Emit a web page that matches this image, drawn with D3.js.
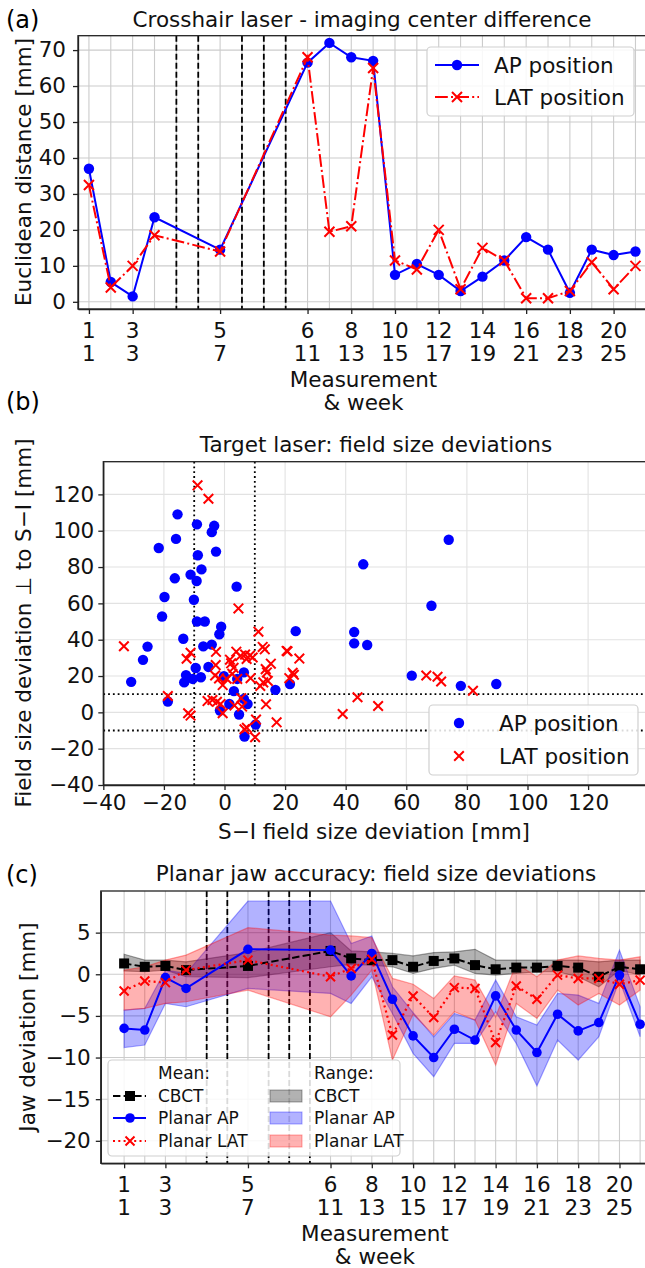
<!DOCTYPE html>
<html>
<meta charset="utf-8">
<style>
    body { margin: 0; background: #fff; }
    svg { display: block; font-family: "DejaVu Sans", sans-serif; }
    .grid line { stroke: #cccccc; stroke-width: 1.1; }
    .gridb line { stroke: #e2e2e2; stroke-width: 1.1; }
    .axis path, .axis line { stroke: #222; stroke-width: 1.3; }
    .axis text { font-size: 21.5px; fill: #111; font-family: "DejaVu Sans", sans-serif; }
    .lbl { font-size: 21.5px; fill: #111; }
</style>

<body>
<script src="https://d3js.org/d3.v7.min.js"></script>
<script>

    // ---- shared x axis: measurement number & week ----
    var measWeek = [1, 2, 3, 4, 7, 11, 12, 13, 14, 15, 16, 17, 18, 19, 20, 21, 22, 23, 24, 25, 26];
    var tickWeek = [1, 3, 7, 11, 13, 15, 17, 19, 21, 23, 25];
    var tickMeas = ["1", "3", "5", "6", "8", "10", "12", "14", "16", "18", "20"];
    var gapWeek = [5, 6, 8, 9, 10];

    // ---- (a) crosshair laser, euclidean distance [mm] ----
    var apDist = [37, 5.5, 1.5, 23.5, 14.5, 66.5, 72, 68, 67, 7.5, 10.5, 7.5, 3, 7, 11.5, 18, 14.5, 2.5, 14.5, 13, 14];
    var latDist = [32.5, 4, 10, 18.5, 14, 68, 19.5, 21, 65, 11.5, 9, 20, 3.5, 15, 11.5, 1, 1, 3, 11, 3.5, 10];
    var yTicksA = [0, 10, 20, 30, 40, 50, 60, 70];

    // ---- (b) target laser field size deviations [mm] ----
    var apSI = [-15.5, -9.1, -3.4, -4.2, -16, -21.7, -8.8, -2.8, -7.6, -16.4, -11.2, -9.2, -19.8, 4, -10.1, -20.6,
        -9.1, -6.5, -1.1, -1.7, -13.6, -25.4, -26.9, -7, -4.2, 23.5, 42.8, 42.8, 47.1, 45.8, 74, 68.3, 61.8, 78, 89.7,
        -30.8, -18.7, -9.5, -5.3, -12.7, -13.3, -10.5, -7.8, -0.2, 6.4, 4.2, 3.1, 16.8, 21.6, 1.6, 6.4, 7.6, -1.5,
        4.8, 10.3, 6.6];
    var apPerp = [109, 103.5, 102.7, 99.2, 95.5, 90.5, 86.5, 88.5, 78.7, 73.8, 75.8, 72.3, 63.5, 69.2, 62, 52.8,
        50, 50, 47.1, 43, 40.5, 36.2, 28.9, 36.3, 37.3, 44.7, 44.2, 38, 37.1, 81.5, 95, 58.7, 20.2, 14.6, 15.6,
        16.8, 6, 24.4, 25, 20.5, 16.5, 18.4, 19.3, 19.9, 22, 18.4, 11.7, 12.4, 15.6, 4.6, 7.4, 4.6, 1,
        -1.2, -6.7, -13.3];
    var latSI = [-8.9, -5.3, 4.6, -33.2, 11.2, 20.5, 24.7, 22.5, 66.6, 70.3, 71.5, 82, 43.9, 50.7, 39,
        -18.7, -12, -11.2, -12.5, -11.2, -2.8, -2.9, -1.8, -0.6, 0.7, -0.6, -5.6, -4, -2.5, -1.3,
        1.8, 2.2, 3, 3.9, 5.2, 6.8, 7.3, 8.4, 9.3, 5.5, 5.8, 3.3, 6.6, 7.4, 10.4, 10.1,
        12.6, 13.3, 11.8, 12.8, 14, 14.3, 13.6, 15.3, 13.7, 17.2, 20.8, 22.9, 21.4, 4.2, 2.6, -3.1, 8.6];
    var latPerp = [125, 117.6, 57.2, 36.4, 44.4, 33.8, 29.6, 21.8, 20.3, 19.6, 17, 11.9, 8.3, 3.5, -0.9,
        9, -0.5, -1.8, 29.5, 32.8, 33.3, 26, 18.7, 15, 18.5, -0.5, 6.2, 6.8, 5.8, 4.6,
        29, 27, 24.5, 33.4, 31, 31.8, 29.4, 31.3, 30.2, 7.8, 3.2, 3.8, -9.3, -8.5, -4, -13.7,
        36, 34.7, 14.5, 16.5, 22, 17.3, 23.8, 26.8, 4.4, -5.5, 33.6, 20.7, 18.8, 18.4, 21.2, 20.3, 18.8];
    var ticksB = [-40, -20, 0, 20, 40, 60, 80, 100, 120];
    var toleranceB = [-10, 10];

    // ---- (c) planar jaw accuracy: mean and range [mm] ----
    var cbctMean = [1.3, 0.9, 1.0, 0.5, 1.0, 2.8, 1.9, 1.7, 1.7, 0.9, 1.6, 1.9, 1.1, 0.6, 0.8, 0.8, 1.0, 0.8, -0.3, 0.9, 0.6];
    var cbctLo = [0.4, 0.3, 0.5, -0.3, -0.4, 0.9, 1.2, 1.1, 0.9, 0.1, 0.7, 1.1, 0.1, -0.1, 0.1, 0.3, 0.3, -0.3, -1.5, 0.5, -0.1];
    var cbctHi = [2.4, 1.7, 1.7, 1.5, 2.6, 5.0, 2.8, 2.7, 2.5, 2.2, 2.6, 2.7, 3.0, 1.7, 1.7, 1.7, 1.7, 1.7, 1.5, 1.7, 1.7];
    var apMean = [-6.5, -6.7, -0.4, -1.7, 3.0, 2.9, -0.2, 2.5, -3.0, -7.4, -10.0, -6.6, -7.9, -2.6, -6.7, -9.4, -4.8, -6.8, -5.8, -0.1, -6.0];
    var apLo = [-8.8, -8.5, -3.5, -3.9, -1.7, -2.3, -3.5, -0.3, -4.7, -9.5, -12.3, -8.3, -8.3, -4.5, -8.3, -13.4, -7.9, -10.3, -7.5, -0.7, -7.5];
    var apHi = [-4.3, -4.1, 0.5, 0.1, 8.8, 8.8, 3.7, 4.6, -1.5, -4.6, -7.5, -4.7, -5.5, -0.7, -5.1, -6.1, -2.3, -2.5, -3.5, 2.9, -3.9];
    var latMean = [-2.0, -0.8, -1.0, 0.5, 1.7, -0.3, 0.7, 1.8, -7.3, -2.6, -5.2, -1.6, -1.7, -8.2, -1.4, -3.0, -0.1, -0.5, -0.5, -1.2, -0.7];
    var latLo = [-4.3, -4.1, -3.5, -3.3, -1.9, -5.1, -2.5, 0.5, -10.3, -4.8, -7.3, -4.5, -5.5, -10.9, -3.5, -5.3, -1.9, -3.7, -2.3, -3.7, -1.9];
    var latHi = [0.5, 0.9, 1.7, 2.3, 5.6, 4.7, 4.6, 4.4, -0.5, -1.2, -2.9, -0.2, -0.7, -5.1, 1.3, -0.3, 1.7, 2.2, 1.9, 1.7, 2.1];
    var yTicksC = [-20, -15, -10, -5, 0, 5];

    var svg = d3.select("body").append("svg")
        .attr("width", 645)
        .attr("height", 1268);
    svg.append("rect").attr("width", 645).attr("height", 1268).attr("fill", "#fff");

    var crossPath = function (s) { return "M" + (-s) + "," + (-s) + "L" + s + "," + s + "M" + (-s) + "," + s + "L" + s + "," + (-s); };

    function clip(id, x0, y0, x1, y1) {
        svg.append("clipPath").attr("id", id).append("rect")
            .attr("x", x0).attr("y", y0).attr("width", x1 - x0).attr("height", y1 - y0);
        return svg.append("g").attr("clip-path", "url(#" + id + ")");
    }

    function dots(g, xs, ys, x, y, r) {
        g.selectAll(null).data(xs).enter().append("circle")
            .attr("cx", function (d) { return x(d); })
            .attr("cy", function (d, i) { return y(ys[i]); })
            .attr("r", r).attr("fill", "#0000ff");
    }
    function crosses(g, xs, ys, x, y, s) {
        g.selectAll(null).data(xs).enter().append("path")
            .attr("transform", function (d, i) { return "translate(" + x(d) + "," + y(ys[i]) + ")"; })
            .attr("d", crossPath(s)).attr("stroke", "#ff0000").attr("stroke-width", 2).attr("fill", "none");
    }

    function frame(x0, y0, x1, y1) {
        svg.append("rect").attr("x", x0).attr("y", y0).attr("width", x1 - x0).attr("height", y1 - y0)
            .attr("fill", "none").attr("stroke", "#222").attr("stroke-width", 1.3);
    }

    function weekLabels(x, bottom) {
        tickWeek.forEach(function (w, i) {
            svg.append("text").attr("class", "lbl").attr("x", x(w)).attr("y", bottom + 29)
                .attr("text-anchor", "middle").text(tickMeas[i]);
            svg.append("text").attr("class", "lbl").attr("x", x(w)).attr("y", bottom + 52)
                .attr("text-anchor", "middle").text(w);
        });
        var cx = (x.range()[0] + 645) / 2 + 2;
        svg.append("text").attr("class", "lbl").attr("x", cx).attr("y", bottom + 78)
            .attr("text-anchor", "middle").text("Measurement");
        svg.append("text").attr("class", "lbl").attr("x", cx).attr("y", bottom + 101)
            .attr("text-anchor", "middle").text("& week");
    }

    function legendBox(x0, y0, w, h) {
        svg.append("rect").attr("x", x0).attr("y", y0).attr("width", w).attr("height", h)
            .attr("rx", 4).attr("fill", "#fff").attr("fill-opacity", 0.85)
            .attr("stroke", "#d0d0d0").attr("stroke-width", 1.2);
    }

    // =================== (a) ===================
    var xA = d3.scaleLinear().domain([0.5, 26.5]).range([78, 646.4]);
    var yA = d3.scaleLinear().domain([-2, 74]).range([309, 35.7]);

    var gA = clip("clipA", 78, 35.7, 647, 309);
    gA.append("g").attr("class", "grid").selectAll("line").data(d3.range(1, 27)).enter().append("line")
        .attr("x1", function (d) { return xA(d); }).attr("x2", function (d) { return xA(d); })
        .attr("y1", 35.7).attr("y2", 309);
    gA.append("g").attr("class", "grid").selectAll("line").data(yTicksA).enter().append("line")
        .attr("x1", 78).attr("x2", 647)
        .attr("y1", function (d) { return yA(d); }).attr("y2", function (d) { return yA(d); });
    gA.selectAll(null).data(gapWeek).enter().append("line")
        .attr("x1", function (d) { return xA(d); }).attr("x2", function (d) { return xA(d); })
        .attr("y1", 35.7).attr("y2", 309)
        .attr("stroke", "#000").attr("stroke-width", 1.8).attr("stroke-dasharray", "6,3");

    var lineA = function (vals) {
        return d3.line().x(function (d, i) { return xA(measWeek[i]); }).y(function (d) { return yA(d); })(vals);
    };
    gA.append("path").attr("d", lineA(apDist)).attr("fill", "none").attr("stroke", "#0000ff").attr("stroke-width", 2);
    dots(gA, measWeek, apDist, xA, yA, 5.2);
    gA.append("path").attr("d", lineA(latDist)).attr("fill", "none").attr("stroke", "#ff0000")
        .attr("stroke-width", 2).attr("stroke-dasharray", "12.8,3.2,2,3.2");
    crosses(gA, measWeek, latDist, xA, yA, 5);

    frame(78, 35.7, 700, 309);
    svg.append("g").attr("class", "axis").attr("transform", "translate(78,0)")
        .call(d3.axisLeft(yA).tickValues(yTicksA).tickSize(5).tickPadding(7).tickSizeOuter(0));
    svg.append("g").attr("class", "axis").attr("transform", "translate(0,309)")
        .call(d3.axisBottom(xA).tickValues(tickWeek).tickSize(5).tickSizeOuter(0).tickFormat(""));
    weekLabels(xA, 309);

    svg.append("text").attr("x", 6).attr("y", 28).style("font-size", "24px").text("(a)");
    svg.append("text").attr("class", "lbl").attr("x", 362).attr("y", 27).attr("text-anchor", "middle")
        .text("Crosshair laser - imaging center difference");
    svg.append("text").attr("class", "lbl").attr("transform", "translate(31,172) rotate(-90)")
        .attr("text-anchor", "middle").text("Euclidean distance [mm]");

    legendBox(427, 47, 207, 69);
    svg.append("line").attr("x1", 435).attr("x2", 479).attr("y1", 65).attr("y2", 65)
        .attr("stroke", "#0000ff").attr("stroke-width", 2);
    svg.append("circle").attr("cx", 457).attr("cy", 65).attr("r", 5.2).attr("fill", "#0000ff");
    svg.append("line").attr("x1", 435).attr("x2", 479).attr("y1", 97).attr("y2", 97)
        .attr("stroke", "#ff0000").attr("stroke-width", 2).attr("stroke-dasharray", "12.8,3.2,2,3.2");
    svg.append("path").attr("transform", "translate(457,97)").attr("d", crossPath(5))
        .attr("stroke", "#ff0000").attr("stroke-width", 2);
    svg.append("text").attr("class", "lbl").attr("x", 494).attr("y", 65).attr("dy", "0.35em").text("AP position");
    svg.append("text").attr("class", "lbl").attr("x", 494).attr("y", 97).attr("dy", "0.35em").text("LAT position");

    // =================== (b) ===================
    var xB = d3.scaleLinear().domain([-40, 140]).range([103.3, 648.7]);
    var yB = d3.scaleLinear().domain([-40, 138]).range([785, 461.7]);

    var gB = clip("clipB", 103.3, 461.7, 650, 785);
    gB.append("g").attr("class", "gridb").selectAll("line").data(ticksB).enter().append("line")
        .attr("x1", function (d) { return xB(d); }).attr("x2", function (d) { return xB(d); })
        .attr("y1", 461.7).attr("y2", 785);
    gB.append("g").attr("class", "gridb").selectAll("line").data(ticksB).enter().append("line")
        .attr("x1", 103.3).attr("x2", 650)
        .attr("y1", function (d) { return yB(d); }).attr("y2", function (d) { return yB(d); });
    gB.selectAll(null).data(toleranceB).enter().append("line")
        .attr("x1", function (d) { return xB(d); }).attr("x2", function (d) { return xB(d); })
        .attr("y1", 461.7).attr("y2", 785)
        .attr("stroke", "#000").attr("stroke-width", 1.8).attr("stroke-dasharray", "1.8,3");
    gB.selectAll(null).data(toleranceB).enter().append("line")
        .attr("x1", 103.3).attr("x2", 650)
        .attr("y1", function (d) { return yB(d); }).attr("y2", function (d) { return yB(d); })
        .attr("stroke", "#000").attr("stroke-width", 1.8).attr("stroke-dasharray", "1.8,3");
    dots(gB, apSI, apPerp, xB, yB, 5.2);
    crosses(gB, latSI, latPerp, xB, yB, 4.8);

    frame(103.3, 461.7, 700, 785);
    svg.append("g").attr("class", "axis").attr("transform", "translate(103.3,0)")
        .call(d3.axisLeft(yB).tickValues(ticksB).tickSize(5).tickPadding(4).tickSizeOuter(0));
    svg.append("g").attr("class", "axis").attr("transform", "translate(0,785)")
        .call(d3.axisBottom(xB).tickValues(ticksB).tickSize(5).tickPadding(5).tickSizeOuter(0));

    svg.append("text").attr("x", 6).attr("y", 410).style("font-size", "24px").text("(b)");
    svg.append("text").attr("class", "lbl").attr("x", 376).attr("y", 452).attr("text-anchor", "middle")
        .text("Target laser: field size deviations");
    svg.append("text").attr("class", "lbl").attr("x", 374).attr("y", 839).attr("text-anchor", "middle")
        .text("S\u2212I field size deviation [mm]");
    svg.append("text").attr("class", "lbl").attr("transform", "translate(31,623) rotate(-90)")
        .attr("text-anchor", "middle").text("Field size deviation  \u22a5 to S\u2212I [mm]");

    legendBox(429, 705, 209, 70);
    svg.append("circle").attr("cx", 459).attr("cy", 723).attr("r", 5.2).attr("fill", "#0000ff");
    svg.append("path").attr("transform", "translate(459,756)").attr("d", crossPath(4.8))
        .attr("stroke", "#ff0000").attr("stroke-width", 2);
    svg.append("text").attr("class", "lbl").attr("x", 499).attr("y", 723).attr("dy", "0.35em").text("AP position");
    svg.append("text").attr("class", "lbl").attr("x", 499).attr("y", 756).attr("dy", "0.35em").text("LAT position");

    // =================== (c) ===================
    var xC = d3.scaleLinear().domain([-0.13, 26.3]).range([100.8, 100.8 + 26.43 * 20.64]);
    var yC = d3.scaleLinear().domain([-22.7, 10]).range([1163.3, 891]);

    var gC = clip("clipC", 100.8, 891, 648, 1163.3);
    gC.append("g").attr("class", "grid").selectAll("line").data(d3.range(1, 27)).enter().append("line")
        .attr("x1", function (d) { return xC(d); }).attr("x2", function (d) { return xC(d); })
        .attr("y1", 891).attr("y2", 1163.3);
    gC.append("g").attr("class", "grid").selectAll("line").data(yTicksC).enter().append("line")
        .attr("x1", 100.8).attr("x2", 648)
        .attr("y1", function (d) { return yC(d); }).attr("y2", function (d) { return yC(d); });
    gC.selectAll(null).data(gapWeek).enter().append("line")
        .attr("x1", function (d) { return xC(d); }).attr("x2", function (d) { return xC(d); })
        .attr("y1", 891).attr("y2", 1163.3)
        .attr("stroke", "#000").attr("stroke-width", 1.8).attr("stroke-dasharray", "6,3");

    function band(lo, hi, color) {
        var area = d3.area()
            .x(function (d, i) { return xC(measWeek[i]); })
            .y0(function (d, i) { return yC(lo[i]); })
            .y1(function (d, i) { return yC(hi[i]); });
        gC.append("path").attr("d", area(lo)).attr("fill", color).attr("fill-opacity", 0.3)
            .attr("stroke", color).attr("stroke-opacity", 0.35).attr("stroke-width", 1.2);
    }
    band(cbctLo, cbctHi, "#000000");
    band(apLo, apHi, "#0000ff");
    band(latLo, latHi, "#ff0000");

    var lineC = function (vals) {
        return d3.line().x(function (d, i) { return xC(measWeek[i]); }).y(function (d) { return yC(d); })(vals);
    };
    gC.append("path").attr("d", lineC(cbctMean)).attr("fill", "none").attr("stroke", "#000")
        .attr("stroke-width", 2).attr("stroke-dasharray", "7.4,3.2");
    gC.selectAll(null).data(cbctMean).enter().append("rect")
        .attr("x", function (d, i) { return xC(measWeek[i]) - 5; })
        .attr("y", function (d) { return yC(d) - 5; })
        .attr("width", 10).attr("height", 10).attr("fill", "#000");
    gC.append("path").attr("d", lineC(apMean)).attr("fill", "none").attr("stroke", "#0000ff").attr("stroke-width", 2);
    dots(gC, measWeek, apMean, xC, yC, 4.8);
    gC.append("path").attr("d", lineC(latMean)).attr("fill", "none").attr("stroke", "#ff0000")
        .attr("stroke-width", 2.2).attr("stroke-dasharray", "2,3.3");
    crosses(gC, measWeek, latMean, xC, yC, 4.5);

    frame(100.8, 891, 700, 1163.3);
    svg.append("g").attr("class", "axis").attr("transform", "translate(100.8,0)")
        .call(d3.axisLeft(yC).tickValues(yTicksC).tickSize(5).tickPadding(5).tickSizeOuter(0));
    svg.append("g").attr("class", "axis").attr("transform", "translate(0,1163.3)")
        .call(d3.axisBottom(xC).tickValues(tickWeek).tickSize(5).tickSizeOuter(0).tickFormat(""));
    weekLabels(xC, 1163.3);

    svg.append("text").attr("x", 6).attr("y", 883).style("font-size", "24px").text("(c)");
    svg.append("text").attr("class", "lbl").attr("x", 376).attr("y", 881).attr("text-anchor", "middle")
        .text("Planar jaw accuracy: field size deviations");
    svg.append("text").attr("class", "lbl").attr("transform", "translate(35,1027) rotate(-90)")
        .attr("text-anchor", "middle").text("Jaw deviation [mm]");

    // legend (c): two columns, mean markers and range patches
    legendBox(108, 1060, 292, 96);
    var legRows = [1096, 1118, 1141];
    var legNames = ["CBCT", "Planar AP", "Planar LAT"];
    var legColors = ["#000000", "#0000ff", "#ff0000"];
    var leg = svg.append("g").style("font-size", "17px").style("fill", "#111");
    leg.append("text").attr("x", 158).attr("y", 1073).attr("dy", "0.35em").text("Mean:");
    leg.append("text").attr("x", 314).attr("y", 1073).attr("dy", "0.35em").text("Range:");
    legRows.forEach(function (y, i) {
        var dash = i === 0 ? "7.4,3.2" : (i === 2 ? "2,3.3" : null);
        leg.append("line").attr("x1", 113).attr("x2", 146).attr("y1", y).attr("y2", y)
            .attr("stroke", legColors[i]).attr("stroke-width", 2).attr("stroke-dasharray", dash);
        if (i === 0) {
            leg.append("rect").attr("x", 125).attr("y", y - 5).attr("width", 10).attr("height", 10).attr("fill", "#000");
        } else if (i === 1) {
            leg.append("circle").attr("cx", 130).attr("cy", y).attr("r", 4.8).attr("fill", "#0000ff");
        } else {
            leg.append("path").attr("transform", "translate(130," + y + ")").attr("d", crossPath(4.5))
                .attr("stroke", "#ff0000").attr("stroke-width", 2);
        }
        leg.append("rect").attr("x", 270).attr("y", y - 6).attr("width", 32).attr("height", 12)
            .attr("fill", legColors[i]).attr("fill-opacity", 0.3)
            .attr("stroke", legColors[i]).attr("stroke-opacity", 0.35);
        leg.append("text").attr("x", 158).attr("y", y).attr("dy", "0.35em").text(legNames[i]);
        leg.append("text").attr("x", 314).attr("y", y).attr("dy", "0.35em").text(legNames[i]);
    });

</script>
</body>
</html>
